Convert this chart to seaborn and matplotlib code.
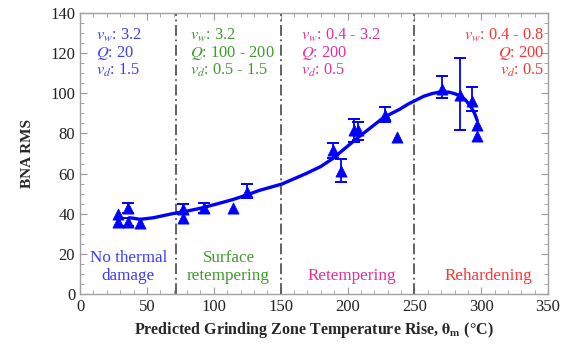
import numpy as np
import pandas as pd
import matplotlib
matplotlib.use("Agg")
import matplotlib.pyplot as plt
import seaborn as sns
from matplotlib.ticker import MultipleLocator

# ---- data ----
temp = [28, 28, 36, 36, 45, 77, 77, 93, 114, 125, 189, 195, 205, 208, 228, 237, 271, 284, 293, 297, 297]
bna = [40, 36, 43, 36, 35.5, 42.5, 38, 43, 43, 51, 71.5, 61.5, 81.5, 81.5, 89, 78, 102, 99, 96, 84, 78.5]
err_lo = [0, 0, 2.5, 2, 0, 2.5, 0, 2.5, 0, 3, 3.8, 5.8, 6, 5, 3.5, 0, 4.5, 17.5, 5, 0, 0]
err_hi = [0, 0, 2.5, 2, 0, 2.5, 0, 2.5, 0, 4, 3.8, 5.8, 5.5, 4, 4.3, 0, 6.5, 18.5, 7, 0, 0]

fit_x = [37, 45, 55, 69, 80, 90, 102, 114, 125, 134, 151, 169, 180, 189, 198, 207, 217, 226, 233, 239,
         245, 251, 257, 263, 268, 272, 276, 280, 284, 288, 292, 295, 297]
fit_y = [38, 37.2, 38, 40, 41.3, 42.7, 44.8, 47, 49.4, 51.6, 54.8, 60, 63.5, 67.5, 72.5, 77.5, 82.7, 87.4, 90, 92,
         94.5, 96.5, 98.5, 99.8, 100.5, 100.8, 100.5, 99.8, 98.8, 96.8, 93.5, 90, 86.4]

boundaries = [72, 150, 250]
xticks = [0, 50, 100, 150, 200, 250, 300, 350]
yticks = [0, 20, 40, 60, 80, 100, 120, 140]

# ---- plotting ----
sns.set_style("ticks")
plt.rcParams["font.family"] = ["Liberation Serif", "DejaVu Serif"]
plt.rcParams["mathtext.fontset"] = "stix"

fig = plt.figure(figsize=(5.68, 3.5), dpi=100)
ax = fig.add_axes([0.141, 0.16, 0.824, 0.803])

blue = "#0000ff"
df = pd.DataFrame({"T": temp, "B": bna})
curve = pd.DataFrame({"T": fit_x, "B": fit_y})

sns.lineplot(data=curve, x="T", y="B", ax=ax, color=blue, lw=2.4, zorder=3)

ebx = [t for t, l, h in zip(temp, err_lo, err_hi) if l + h > 0]
eby = [b for b, l, h in zip(bna, err_lo, err_hi) if l + h > 0]
ebl = [l for l, h in zip(err_lo, err_hi) if l + h > 0]
ebh = [h for l, h in zip(err_lo, err_hi) if l + h > 0]
ax.errorbar(ebx, eby, yerr=[ebl, ebh], fmt="none", ecolor=blue, elinewidth=1.3,
            capsize=4, capthick=1.4, zorder=4)
sns.scatterplot(data=df, x="T", y="B", ax=ax, marker="^", s=65, color=blue,
                edgecolor=blue, linewidth=0.5, zorder=5)

for b in boundaries:
    ax.axvline(b, color="#555555", lw=1.3, ls=(0, (6, 2, 1, 2)), zorder=2)

ax.set_xlim(0, 350)
ax.set_ylim(0, 140)
ax.set_xticks(xticks)
ax.set_yticks(yticks)
ax.xaxis.set_minor_locator(MultipleLocator(10))
ax.yaxis.set_minor_locator(MultipleLocator(5))
ax.tick_params(which="both", direction="in", top=True, right=True, colors="#999999",
               labelcolor="#222222", labelsize=12)
ax.tick_params(which="major", length=5)
ax.tick_params(which="minor", length=3)
for s in ax.spines.values():
    s.set_color("#a0a0a0")
    s.set_linewidth(1.0)

ax.set_xlabel(r"Predicted Grinding Zone Temperature Rise, $\mathbf{\theta_m}$ (°C)",
              fontsize=11.5, fontweight="bold", labelpad=4)
ax.set_ylabel("BNA RMS", fontsize=11, fontweight="bold", labelpad=12)

c_blue = "#3b3bff"
c_green = "#3f9a2c"
c_mag = "#e0309c"
c_red = "#ff3333"
fs_top = 11.8
fs = 12.3
def block(x, lines, color, ha="left"):
    for i, t in enumerate(lines):
        ax.text(x, 128.6 - i * 8.7, t, color=color, fontsize=fs_top, ha=ha, va="center")

block(12, [r"$v_w$: 3.2", r"$Q$: 20", r"$v_d$: 1.5"], c_blue)
block(82, [r"$v_w$: 3.2", r"$Q$: 100 - 200", r"$v_d$: 0.5 - 1.5"], c_green)
block(165, [r"$v_w$: 0.4 - 3.2", r"$Q$: 200", r"$v_d$: 0.5"], c_mag)
block(347, [r"$v_w$: 0.4 - 0.8", r"$Q$: 200", r"$v_d$: 0.5"], c_red, ha="right")

ax.text(36, 13.5, "No thermal\ndamage", color=c_blue, fontsize=fs, ha="center", va="center", linespacing=1.2)
ax.text(111, 13.5, "Surface\nretempering", color=c_green, fontsize=fs, ha="center", va="center", linespacing=1.2)
ax.text(203, 9, "Retempering", color=c_mag, fontsize=fs, ha="center", va="center")
ax.text(305, 9, "Rehardening", color=c_red, fontsize=fs, ha="center", va="center")

fig.savefig("out.png", dpi=100)
